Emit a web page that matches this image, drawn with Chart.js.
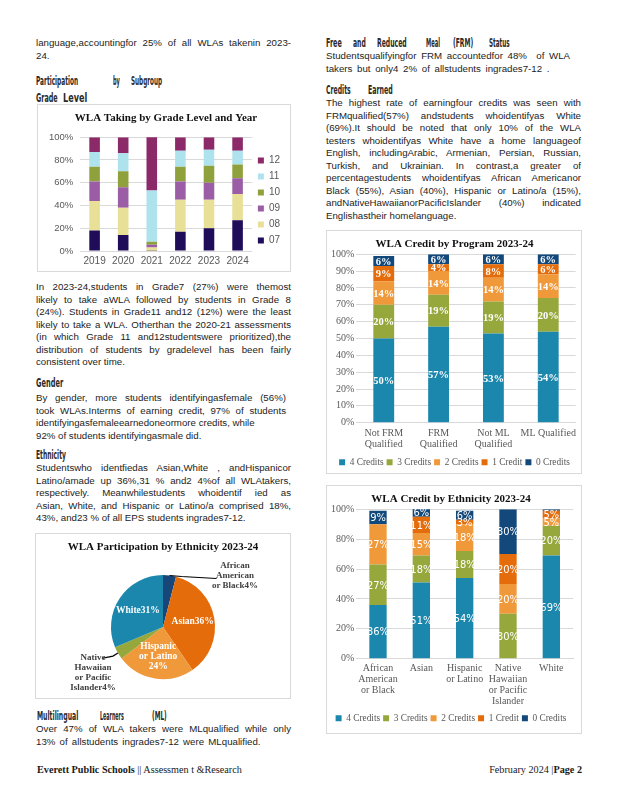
<!DOCTYPE html>
<html><head><meta charset="utf-8">
<script src="https://cdn.jsdelivr.net/npm/chart.js@4"></script>
<style>
html,body{margin:0;padding:0;background:#fff;}
body{width:618px;height:800px;position:relative;overflow:hidden;font-family:"Liberation Sans",Arial,sans-serif;color:#1c1c1c;}
.t{position:absolute;font-size:9.7px;line-height:12.5px;width:255px;}
.t span{display:block;white-space:nowrap;}
.t span.j{text-align:justify;text-align-last:justify;white-space:normal;}
.w{position:absolute;font-family:"Liberation Sans Narrow","DejaVu Sans Condensed",sans-serif;font-weight:bold;font-size:12px;line-height:14px;color:#2a2a2a;white-space:nowrap;transform-origin:left center;}
.box{position:absolute;border:1px solid #d9d9d9;box-sizing:border-box;background:#fff;}
.box canvas{position:absolute;left:0;top:0;}
.foot{position:absolute;top:764px;font-family:"Liberation Serif","Times New Roman",serif;font-size:10.2px;color:#1a1a1a;white-space:nowrap;}
</style>
</head><body>

<!-- left column text -->
<div class="t" style="left:36px;top:37px;">
<span class="j">language,accountingfor 25% of all WLAs takenin 2023-</span>
<span>24.</span>
</div>
<span class="w" data-w="42" style="left:36px;top:74px;">Participation</span>
<span class="w" data-w="7" style="left:113px;top:74px;">by</span>
<span class="w" data-w="31" style="left:131px;top:74px;">Subgroup</span>
<span class="w" data-w="22" style="left:36px;top:91px;">Grade</span>
<span class="w" data-w="24" style="left:63px;top:91px;">Level</span>

<div class="t" style="left:36px;top:281px;">
<span class="j">In 2023-24,students in Grade7 (27%) were themost</span>
<span class="j">likely to take aWLA followed by students in Grade 8</span>
<span class="j">(24%). Students in Grade11 and12 (12%) were the least</span>
<span class="j">likely to take a WLA. Otherthan the 2020-21 assessments</span>
<span class="j">(in which Grade 11 and12studentswere prioritized),the</span>
<span class="j">distribution of students by gradelevel has been fairly</span>
<span>consistent over time.</span>
</div>
<span class="w" data-w="27" style="left:36px;top:376px;">Gender</span>
<div class="t" style="left:36px;top:392px;width:250px;">
<span class="j">By gender, more students identifyingasfemale (56%)</span>
<span class="j">took WLAs.Interms of earning credit, 97% of students</span>
<span>identifyingasfemaleearnedoneormore credits, while</span>
<span>92% of students identifyingasmale did.</span>
</div>
<span class="w" data-w="30" style="left:36px;top:448px;">Ethnicity</span>
<div class="t" style="left:36px;top:462px;">
<span class="j">Studentswho identfiedas Asian,White , andHispanicor</span>
<span class="j">Latino/amade up 36%,31 % and2 4%of all WLAtakers,</span>
<span class="j">respectively. Meanwhilestudents whoidentif ied as</span>
<span class="j">Asian, White, and Hispanic or Latino/a comprised 18%,</span>
<span>43%, and23 % of all EPS students ingrades7-12.</span>
</div>
<span class="w" data-w="41" style="left:37px;top:709px;">Multilingual</span>
<span class="w" data-w="24" style="left:100px;top:709px;">Learners</span>
<span class="w" data-w="15" style="left:152px;top:709px;">(ML)</span>
<div class="t" style="left:36px;top:723px;">
<span class="j">Over 47% of WLA takers were MLqualified while only</span>
<span style="word-spacing:1.5px;">13% of allstudents ingrades7-12 were MLqualified.</span>
</div>

<!-- right column text -->
<span class="w" data-w="16" style="left:326px;top:36px;">Free</span>
<span class="w" data-w="13" style="left:353px;top:36px;">and</span>
<span class="w" data-w="30" style="left:377px;top:36px;">Reduced</span>
<span class="w" data-w="14" style="left:426px;top:36px;">Meal</span>
<span class="w" data-w="20" style="left:453px;top:36px;">(FRM)</span>
<span class="w" data-w="21" style="left:489px;top:36px;">Status</span>
<div class="t" style="left:326px;top:50px;word-spacing:2px;">
<span>Studentsqualifyingfor FRM accountedfor 48% &nbsp;of WLA</span>
<span>takers but only4 2% of allstudents ingrades7-12 .</span>
</div>
<span class="w" data-w="25" style="left:326px;top:83px;">Credits</span>
<span class="w" data-w="25" style="left:368px;top:83px;">Earned</span>
<div class="t" style="left:326px;top:97px;">
<span class="j">The highest rate of earningfour credits was seen with</span>
<span class="j">FRMqualified(57%) andstudents whoidentifyas White</span>
<span class="j">(69%).It should be noted that only 10% of the WLA</span>
<span class="j">testers whoidentifyas White have a home languageof</span>
<span class="j">English, includingArabic, Armenian, Persian, Russian,</span>
<span class="j">Turkish, and Ukrainian. In contrast,a greater of</span>
<span class="j">percentagestudents whoidentifyas African Americanor</span>
<span class="j">Black (55%), Asian (40%), Hispanic or Latino/a (15%),</span>
<span class="j">andNativeHawaiianorPacificIslander (40%) indicated</span>
<span>Englishastheir homelanguage.</span>
</div>

<!-- chart boxes -->
<div class="box" style="left:37px;top:104px;width:254px;height:168px;"><canvas id="c1" width="252" height="166"></canvas></div>
<div class="box" style="left:35px;top:533px;width:256px;height:166px;"><canvas id="c2" width="254" height="164"></canvas></div>
<div class="box" style="left:326px;top:230px;width:256px;height:244px;"><canvas id="c3" width="254" height="246"></canvas></div>
<div class="box" style="left:326px;top:485px;width:256px;height:249px;"><canvas id="c4" width="254" height="247"></canvas></div>

<div class="foot" style="left:37px;"><b>Everett Public Schools</b> || Assessmen t &amp;Research</div>
<div class="foot" style="right:36px;">February 2024 |<b>Page 2</b></div>

<script>
// ---------- data ----------
const years = ['2019','2020','2021','2022','2023','2024'];
const gradeNames = ['07','08','09','10','11','12'];
const grade07 = [18, 14, 0.3, 17, 20, 27];
const grade08 = [26, 24, 2.7, 28, 25, 23];
const grade09 = [17, 18, 2.4, 16, 15, 14];
const grade10 = [13, 14, 2.7, 13, 15, 12];
const grade11 = [13, 16, 45, 14, 14, 12];
const grade12 = [13, 14, 47, 12, 11, 12];

const pieLabels = ['African American or Black','Asian','Hispanic or Latino','Native Hawaiian or Pacific Islander','White'];
const pieValues = [4, 36, 24, 4, 31];
const pieLabelLines = [['African','American','or Black'],['Asian'],['Hispanic','or Latino',''],['Native','Hawaiian','or Pacific','Islander'],['White']];

const programs = [['Not FRM','Qualified'],['FRM','Qualified'],['Not ML','Qualified'],'ML Qualified'];
const prog4 = [50, 57, 53, 54];
const prog3 = [20, 19, 19, 20];
const prog2 = [14, 14, 14, 14];
const prog1 = [9, 4, 8, 6];
const prog0 = [6, 6, 6, 6];

const ethnicities = [['African','American','or Black'],'Asian',['Hispanic','or Latino'],['Native','Hawaiian','or Pacific','Islander'],'White'];
const eth4 = [36, 51, 54, 0, 69];
const eth3 = [27, 18, 18, 30, 20];
const eth2 = [27, 15, 18, 20, 5];
const eth1 = [0, 11, 3, 20, 5];
const eth0 = [9, 6, 6, 30, 1];

const creditNames = ['4 Credits','3 Credits','2 Credits','1 Credit','0 Credits'];

// ---------- text fitting ----------
document.querySelectorAll('.w').forEach(el => {
  const nat = el.offsetWidth;
  el.style.transform = 'scaleX(' + (+el.dataset.w / nat) + ')';
});
document.querySelectorAll('.t span.j').forEach(el => {
  let fs = 9.7;
  while (el.offsetHeight > 14 && fs > 8) { fs -= 0.1; el.style.fontSize = fs + 'px'; }
});

// ---------- styles ----------
const SERIF = '"Liberation Serif","Times New Roman",serif';
const SANS = '"Liberation Sans",Arial,sans-serif';
const NARROW = '"Liberation Sans Narrow","DejaVu Sans Condensed",sans-serif';
const gradeColors = ['#1f0d5a','#e8e096','#9b5ea6','#8fa13c','#aee3ee','#8b2969'];
const creditColors = ['#1b87ad','#96a83c','#f0993b','#e46c0a','#12487a'];
const pieColors = ['#17467a','#e46c0a','#f0993b','#96a83c','#1b87ad'];
const GRID = '#d9d9d9', TICK = '#595959';

Chart.defaults.animation = false;
Chart.defaults.responsive = false;
Chart.defaults.plugins.tooltip.enabled = false;

const barLabels = {
  id: 'barLabels',
  afterDatasetsDraw(chart, args, opts) {
    const ctx = chart.ctx; ctx.save();
    ctx.font = opts.font; ctx.fillStyle = '#ffffff';
    ctx.textAlign = 'center'; ctx.textBaseline = 'middle';
    chart.data.datasets.forEach((ds, i) => {
      chart.getDatasetMeta(i).data.forEach((bar, j) => {
        const v = ds.data[j];
        if (v < 2) return;
        ctx.fillText(v + '%', bar.x, (bar.y + bar.base) / 2 + 1);
      });
    });
    ctx.restore();
  }
};

function titleOpt(text, pad) {
  return { display: true, text, color: '#111', font: { family: SERIF, size: 11, weight: 'bold' }, padding: pad };
}

// Chart 1
new Chart(document.getElementById('c1'), {
  type: 'bar',
  data: {
    labels: years,
    datasets: [grade07, grade08, grade09, grade10, grade11, grade12].map((d, i) => ({
      label: gradeNames[i], data: d, backgroundColor: gradeColors[i],
      barPercentage: 0.37, categoryPercentage: 1
    }))
  },
  options: {
    layout: { padding: { left: 4, right: 0, bottom: 0, top: 0 } },
    plugins: {
      title: titleOpt('WLA Taking by Grade Level and Year', { top: 7, bottom: 12 }),
      legend: { position: 'right', reverse: true,
        title: { display: true, text: '', font: { size: 10 }, padding: { top: 6.5, bottom: 6.5 } },
        labels: { boxWidth: 6, boxHeight: 6, padding: 6, color: TICK, font: { family: SANS, size: 10 } } }
    },
    scales: {
      x: { stacked: true, grid: { display: false, drawTicks: false }, border: { display: false },
           ticks: { color: TICK, font: { family: SANS, size: 10 }, padding: 4, maxRotation: 0, autoSkip: false } },
      y: { stacked: true, min: 0, max: 100, border: { display: false },
           grid: { color: GRID, drawTicks: false },
           ticks: { stepSize: 20, color: TICK, padding: 7, font: { family: SANS, size: 9.5 }, callback: v => v + '%' } }
    }
  }
});

// Chart 2 (pie)
const pieLabelPlugin = {
  id: 'pieLabelPlugin',
  afterDatasetsDraw(chart) {
    const ctx = chart.ctx; ctx.save();
    chart.getDatasetMeta(0).data.forEach((arc, i) => {
      const v = pieValues[i];
      const mid = (arc.startAngle + arc.endAngle) / 2;
      const r = arc.outerRadius, cx = arc.x, cy = arc.y;
      const lines = pieLabelLines[i].slice();
      lines[lines.length - 1] = lines[lines.length - 1] + v + '%';
      ctx.textAlign = 'center'; ctx.textBaseline = 'middle';
      if (v >= 10) {
        ctx.fillStyle = '#ffffff';
        ctx.font = 'bold 9.5px ' + SERIF;
        const px = cx + Math.cos(mid) * r * 0.58, py = cy + Math.sin(mid) * r * 0.58;
        const lh = 10, h0 = py - (lines.length - 1) * lh / 2;
        lines.forEach((s, k) => ctx.fillText(s, px, h0 + k * lh));
      } else {
        const ex = cx + Math.cos(mid) * r, ey = cy + Math.sin(mid) * r;
        const right = Math.cos(mid) >= 0;
        ctx.strokeStyle = '#000'; ctx.lineWidth = 1.2;
        ctx.beginPath();
        ctx.moveTo(ex, ey);
        if (right) { ctx.lineTo(ex + 12, ey + 1); ctx.lineTo(ex + 47, ey + 3); }
        else { ctx.lineTo(ex - 5, ey + 3); ctx.lineTo(ex - 15, ey + 5); }
        ctx.stroke();
        ctx.fillStyle = '#404040';
        ctx.font = 'bold 9px ' + SERIF;
        const lh = 9.8;
        const tx = right ? cx + 72 : cx - 70;
        const ty0 = right ? cy - 61 : cy + 31;
        lines.forEach((s, k) => ctx.fillText(s, tx, ty0 + k * lh));
      }
    });
    ctx.restore();
  }
};
new Chart(document.getElementById('c2'), {
  type: 'pie',
  data: { labels: pieLabels, datasets: [{ data: pieValues, backgroundColor: pieColors, borderWidth: 0, radius: 52 }] },
  options: {
    layout: { padding: { top: 0, bottom: 4 } },
    plugins: {
      title: titleOpt('WLA Participation by Ethnicity 2023-24', { top: 7, bottom: 6 }),
      legend: { display: false }
    }
  },
  plugins: [pieLabelPlugin]
});

function creditChart(id, labels, sets, title, barPct, labelFont, padRight, extra, tickPad) {
  return new Chart(document.getElementById(id), {
    type: 'bar',
    data: {
      labels,
      datasets: sets.map((d, i) => ({ label: creditNames[i], data: d, backgroundColor: creditColors[i],
        barPercentage: barPct, categoryPercentage: 1 }))
    },
    options: {
      layout: { padding: { left: 2, right: padRight, bottom: 0, top: 0 } },
      plugins: {
        title: titleOpt(title, { top: 7, bottom: 3 }),
        legend: { position: 'bottom',
          labels: { boxWidth: 6, boxHeight: 6, padding: 3, color: TICK, font: { family: SERIF, size: 9.3 } } },
        barLabels: { font: labelFont }
      },
      scales: {
        x: { stacked: true, grid: { display: false, drawTicks: false }, border: { color: GRID },
             ticks: { color: TICK, font: { family: SERIF, size: 10, lineHeight: 1.1 }, padding: tickPad, maxRotation: 0, autoSkip: false },
             afterFit: s => { s.height += extra; } },
        y: { stacked: true, min: 0, max: 100, border: { display: false },
             grid: { color: GRID, drawTicks: false },
             ticks: { stepSize: 10, color: TICK, padding: 2, font: { family: SERIF, size: 10 }, callback: v => v + '%' } }
      }
    },
    plugins: [barLabels]
  });
}
creditChart('c3', programs, [prog4, prog3, prog2, prog1, prog0], 'WLA Credit by Program 2023-24', 0.38, 'bold 10.5px ' + SERIF, 1, 0, 5);
creditChart('c4', ethnicities, [eth4, eth3, eth2, eth1, eth0], 'WLA Credit by Ethnicity 2023-24', 0.4, '11px ' + NARROW, 8, 0, 4);
</script>
</body></html>
